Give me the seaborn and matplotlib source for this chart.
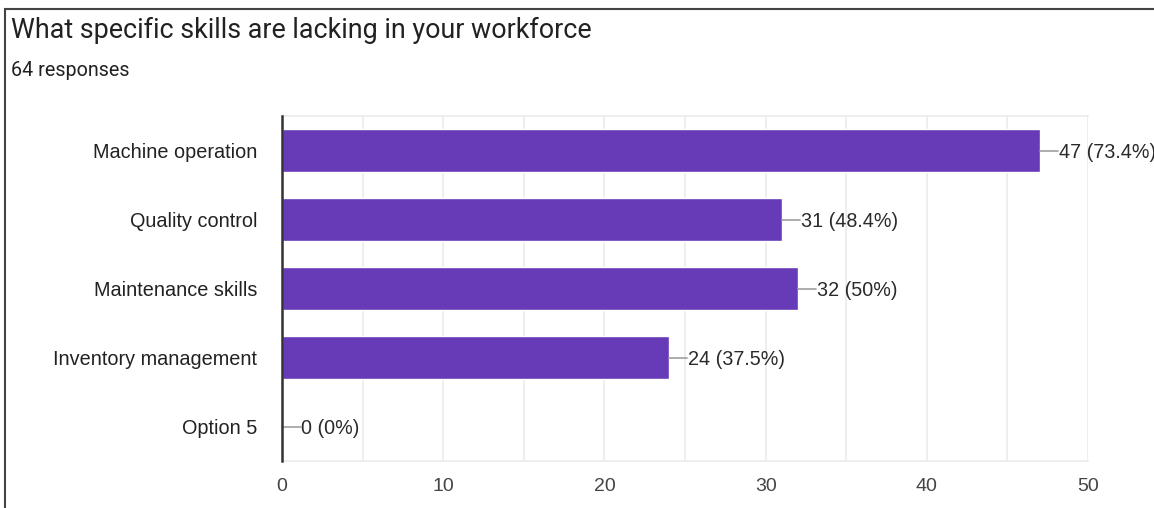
import matplotlib
matplotlib.use("Agg")
import matplotlib.pyplot as plt
from matplotlib.patches import Rectangle
import seaborn as sns
import pandas as pd

# Survey results
skills = ["Machine operation", "Quality control", "Maintenance skills",
          "Inventory management", "Option 5"]
counts = [47, 31, 32, 24, 0]
percents = ["73.4%", "48.4%", "50%", "37.5%", "0%"]
total_responses = 64
x_ticks = [0, 10, 20, 30, 40, 50]

title = "What specific skills are lacking in your workforce"
subtitle = f"{total_responses} responses"

df = pd.DataFrame({"skill": skills, "count": counts})

sns.set_theme(style="white")
plt.rcParams["font.family"] = ["Liberation Sans", "DejaVu Sans"]

W, H = 1154, 508
fig = plt.figure(figsize=(W / 100, H / 100), dpi=100)
fig.patch.set_facecolor("white")

ax = fig.add_axes([282 / W, 47 / H, (1088 - 282) / W, (461 - 116) / H])

sns.barplot(data=df, x="count", y="skill", orient="h", color="#673ab7",
            saturation=1, width=0.62, ax=ax, zorder=3)

ax.set_xlim(0, 50)
ax.set_ylim(4.5, -0.5)

# light grid every 5 units
for v in range(5, 51, 5):
    ax.axvline(v, color="#ebebeb", lw=1.2, zorder=0)
for sp in ["top", "bottom", "right"]:
    ax.spines[sp].set_color("#ebebeb")
    ax.spines[sp].set_linewidth(1.2)
ax.spines["right"].set_visible(False)
ax.spines["left"].set_color("#333333")
ax.spines["left"].set_linewidth(1.8)
ax.spines["left"].set_zorder(5)

ax.set_xticks(x_ticks)
ax.set_xticklabels([str(t) for t in x_ticks], fontsize=14, color="#444444")
ax.tick_params(axis="x", length=0, pad=12)
ax.tick_params(axis="y", length=0, pad=18, labelsize=14.3, labelcolor="#222222")
ax.set_xlabel("")
ax.set_ylabel("")

# value labels with short leader lines
lead = 1.15
for i, (c, p) in enumerate(zip(counts, percents)):
    ax.plot([c, c + lead], [i, i], color="#9e9e9e", lw=1.2, zorder=4,
            clip_on=False)
    ax.text(c + lead + 0.05, i, f"{c} ({p})", va="center_baseline", ha="left",
            fontsize=14.2, color="#2a2a2a", clip_on=False)

# titles
fig.text(11 / W, (H - 38.5) / H, title, fontsize=19.4, color="#212121",
         family="Roboto", va="baseline", ha="left")
fig.text(11 / W, (H - 76.5) / H, subtitle, fontsize=14.2, color="#212121",
         family="Roboto", va="baseline", ha="left")

# card outline
fig.patches.append(Rectangle((5 / W, -0.1), 1.2, (H - 9) / H + 0.1,
                             transform=fig.transFigure, fill=False,
                             edgecolor="#444444", lw=1.5))

fig.savefig("out.png", dpi=100)
